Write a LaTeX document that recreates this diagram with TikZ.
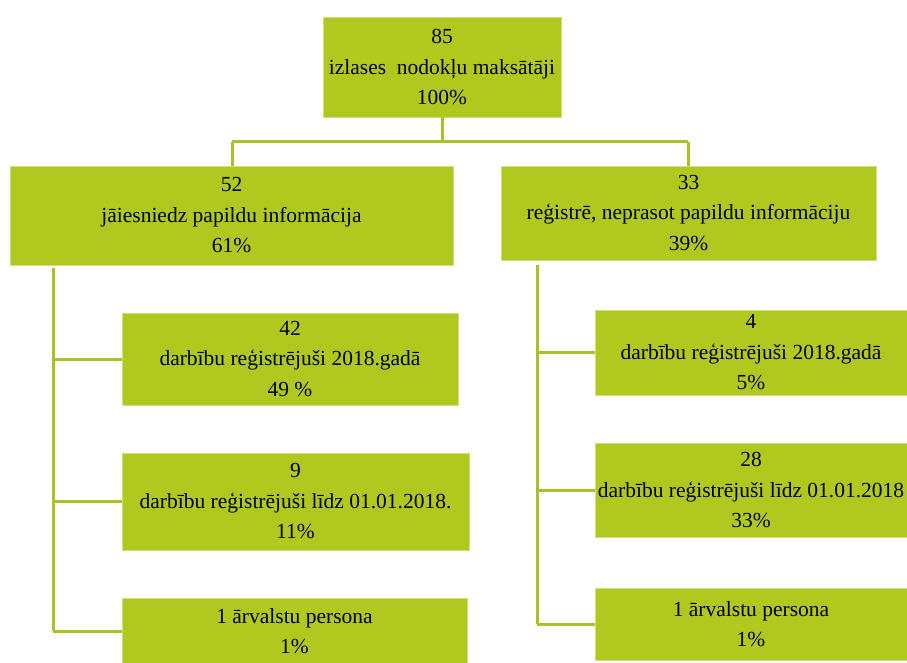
\documentclass[tikz,border=0pt]{standalone}
\usepackage{fontspec}
\setmainfont{Liberation Serif}
\definecolor{boxgreen}{RGB}{177,201,30}
\definecolor{linegreen}{RGB}{170,194,40}
\begin{document}
\begin{tikzpicture}[x=1pt,y=-1pt,
  box/.style={fill=boxgreen, draw=boxgreen!60!white, line width=0.6pt, inner sep=0pt,
    align=center, font=\fontsize{21.5}{30.5}\selectfont},
  conn/.style={draw=linegreen, line width=3pt}]
\useasboundingbox (0,0) rectangle (907,663);

% top level
\node[box, minimum width=238pt, minimum height=100pt] (top) at (442,67)
  {85\\izlases\ \ nodokļu maksātāji\\100\%};

% second level
\node[box, minimum width=443pt, minimum height=99pt] (l1) at (231.5,215.5)
  {52\\jāiesniedz papildu informācija\\61\%};
\node[box, minimum width=375pt, minimum height=94pt] (r1) at (688.5,213)
  {33\\reģistrē, neprasot papildu informāciju\\39\%};

% left branch
\node[box, minimum width=336pt, minimum height=92pt] (l2) at (290,359)
  {42\\darbību reģistrējuši 2018.gadā\\49 \%};
\node[box, minimum width=347pt, minimum height=97pt] (l3) at (295.5,501.5)
  {9\\darbību reģistrējuši līdz 01.01.2018.\\11\%};
\node[box, minimum width=345pt, minimum height=65pt] (l4) at (294.5,631)
  {1 ārvalstu persona\\1\%};

% right branch
\node[box, minimum width=312pt, minimum height=85pt] (r2) at (751,352.5)
  {4\\darbību reģistrējuši 2018.gadā\\5\%};
\node[box, minimum width=312pt, minimum height=94pt] (r3) at (751,490)
  {28\\darbību reģistrējuši līdz 01.01.2018\\33\%};
\node[box, minimum width=312pt, minimum height=72pt] (r4) at (751,624)
  {1 ārvalstu persona\\1\%};

% connector joints
\coordinate (jl) at (232,142);
\coordinate (jr) at (688,142);
\coordinate (tl) at (53,268);
\coordinate (tr) at (537,265);

% top split
\draw[conn] (top.south) -- (top.south |- jl);
\draw[conn] (jl) -- (jr);
\draw[conn] (jl) -- (jl |- l1.north);
\draw[conn] (jr) -- (jr |- r1.north);

% left trunk
\draw[conn] (tl) -- (tl |- l4.west);
\draw[conn] (tl |- l2.west) -- (l2.west);
\draw[conn] (tl |- l3.west) -- (l3.west);
\draw[conn] (tl |- l4.west) -- (l4.west);

% right trunk
\draw[conn] (tr) -- (tr |- r4.west);
\draw[conn] (tr |- r2.west) -- (r2.west);
\draw[conn] (tr |- r3.west) -- (r3.west);
\draw[conn] (tr |- r4.west) -- (r4.west);
\end{tikzpicture}
\end{document}
